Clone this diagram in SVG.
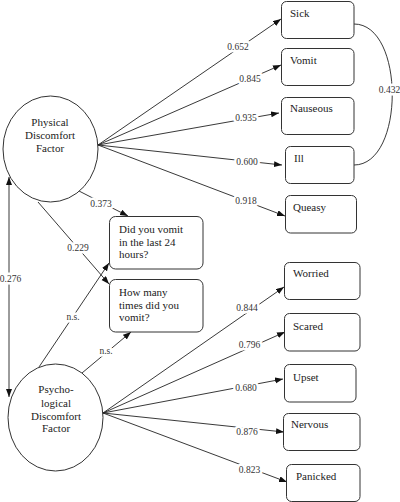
<svg xmlns="http://www.w3.org/2000/svg" width="400" height="502" viewBox="0 0 400 502">
<style>
  .box{fill:#fff;stroke:#333;stroke-width:1}
  .ell{fill:#fff;stroke:#333;stroke-width:1}
  text{font-family:'Liberation Serif','DejaVu Serif',serif}
  .t{font-size:11px;fill:#222}
  .c{text-anchor:middle}
  .lbl{font-size:9.5px;fill:#333;text-anchor:middle;stroke:#fff;stroke-width:5;stroke-linejoin:round;paint-order:stroke}
  .ln{fill:none;stroke:#222;stroke-width:0.9}
  .ar{marker-end:url(#ah)}
</style>
<defs>
  <marker id="ah" markerUnits="userSpaceOnUse" markerWidth="9" markerHeight="7" refX="8" refY="3" orient="auto-start-reverse">
    <path d="M0,0 L8,3 L0,6 z" fill="#111"/>
  </marker>
</defs>
<rect width="400" height="502" fill="#fff"/>

<g id="connectors">
  <line class="ln ar" x1="98" y1="145" x2="281" y2="19"/>
  <line class="ln ar" x1="98" y1="145" x2="281" y2="65"/>
  <line class="ln ar" x1="98" y1="145" x2="279" y2="113"/>
  <line class="ln ar" x1="98" y1="145" x2="282" y2="165"/>
  <line class="ln ar" x1="98" y1="145" x2="285" y2="216"/>
  <line class="ln ar" x1="79" y1="191" x2="128" y2="216"/>
  <line class="ln ar" x1="38" y1="202" x2="109" y2="284"/>
  <line class="ln ar" x1="39" y1="367" x2="109" y2="263"/>
  <line class="ln ar" x1="82" y1="373" x2="131" y2="332"/>
  <line class="ln ar" x1="103" y1="413" x2="284" y2="287"/>
  <line class="ln ar" x1="103" y1="413" x2="285" y2="332"/>
  <line class="ln ar" x1="103" y1="413" x2="283" y2="379"/>
  <line class="ln ar" x1="103" y1="413" x2="284" y2="432"/>
  <line class="ln ar" x1="103" y1="413" x2="287" y2="482"/>
  <line class="ln" x1="9" y1="177" x2="9" y2="397" marker-start="url(#ah)" marker-end="url(#ah)"/>
  <path class="ln" d="M354,24 C405,24 405,165 354,165"/>
  <text class="lbl" x="238" y="50">0.652</text>
  <text class="lbl" x="250" y="81.5">0.845</text>
  <text class="lbl" x="246" y="120.5">0.935</text>
  <text class="lbl" x="247" y="165">0.600</text>
  <text class="lbl" x="246" y="204">0.918</text>
  <text class="lbl" x="389.5" y="92.5">0.432</text>
  <text class="lbl" x="101" y="207">0.373</text>
  <text class="lbl" x="78" y="250.5">0.229</text>
  <text class="lbl" x="10.5" y="281.5">0.276</text>
  <text class="lbl" x="73" y="320">n.s.</text>
  <text class="lbl" x="106" y="354">n.s.</text>
  <text class="lbl" x="247" y="311">0.844</text>
  <text class="lbl" x="249.5" y="347.5">0.796</text>
  <text class="lbl" x="246" y="391">0.680</text>
  <text class="lbl" x="247" y="434.5">0.876</text>
  <text class="lbl" x="249.5" y="473">0.823</text>
</g>

<g id="physical">
  <ellipse class="ell" cx="50.5" cy="149" rx="47.5" ry="53"/>
  <text class="t c" x="50" y="126">Physical</text>
  <text class="t c" x="50" y="139">Discomfort</text>
  <text class="t c" x="50" y="151.5">Factor</text>
</g>
<g id="psychological">
  <ellipse class="ell" cx="55.5" cy="417.5" rx="47.5" ry="53.5"/>
  <text class="t c" x="56" y="393">Psycho-</text>
  <text class="t c" x="56" y="406.5">logical</text>
  <text class="t c" x="56" y="419.5">Discomfort</text>
  <text class="t c" x="56" y="432">Factor</text>
</g>

<g id="sick"><rect class="box" x="281.5" y="1.5" width="72.5" height="37" rx="5"/><text class="t" x="290" y="17">Sick</text></g>
<g id="vomit"><rect class="box" x="281.5" y="48.5" width="72.5" height="37" rx="5"/><text class="t" x="290" y="64">Vomit</text></g>
<g id="nauseous"><rect class="box" x="281.5" y="97.5" width="72.5" height="37" rx="5"/><text class="t" x="290" y="112">Nauseous</text></g>
<g id="ill"><rect class="box" x="285.5" y="146.5" width="68.5" height="37" rx="5"/><text class="t" x="294" y="162">Ill</text></g>
<g id="queasy"><rect class="box" x="285.5" y="195.5" width="71" height="37.5" rx="5"/><text class="t" x="293" y="211">Queasy</text></g>

<g id="q-vomit24"><rect class="box" x="109.5" y="216.5" width="93.5" height="52.5" rx="6"/>
  <text class="t" x="119" y="233">Did you vomit</text>
  <text class="t" x="119" y="245.5">in the last 24</text>
  <text class="t" x="119" y="258">hours?</text></g>
<g id="q-howmany"><rect class="box" x="109.5" y="279.5" width="93.5" height="52.5" rx="6"/>
  <text class="t" x="119" y="296">How many</text>
  <text class="t" x="119" y="308.5">times did you</text>
  <text class="t" x="119" y="321">vomit?</text></g>

<g id="worried"><rect class="box" x="284.5" y="262.5" width="75.5" height="37" rx="5"/><text class="t" x="293" y="277">Worried</text></g>
<g id="scared"><rect class="box" x="284.5" y="313.5" width="75.5" height="37.5" rx="5"/><text class="t" x="293" y="330">Scared</text></g>
<g id="upset"><rect class="box" x="284.5" y="364.5" width="71.5" height="37.5" rx="5"/><text class="t" x="293" y="381">Upset</text></g>
<g id="nervous"><rect class="box" x="283.5" y="413.5" width="76.5" height="37" rx="5"/><text class="t" x="291" y="428">Nervous</text></g>
<g id="panicked"><rect class="box" x="286.5" y="464.5" width="73.5" height="37" rx="5"/><text class="t" x="296" y="480">Panicked</text></g>
</svg>
